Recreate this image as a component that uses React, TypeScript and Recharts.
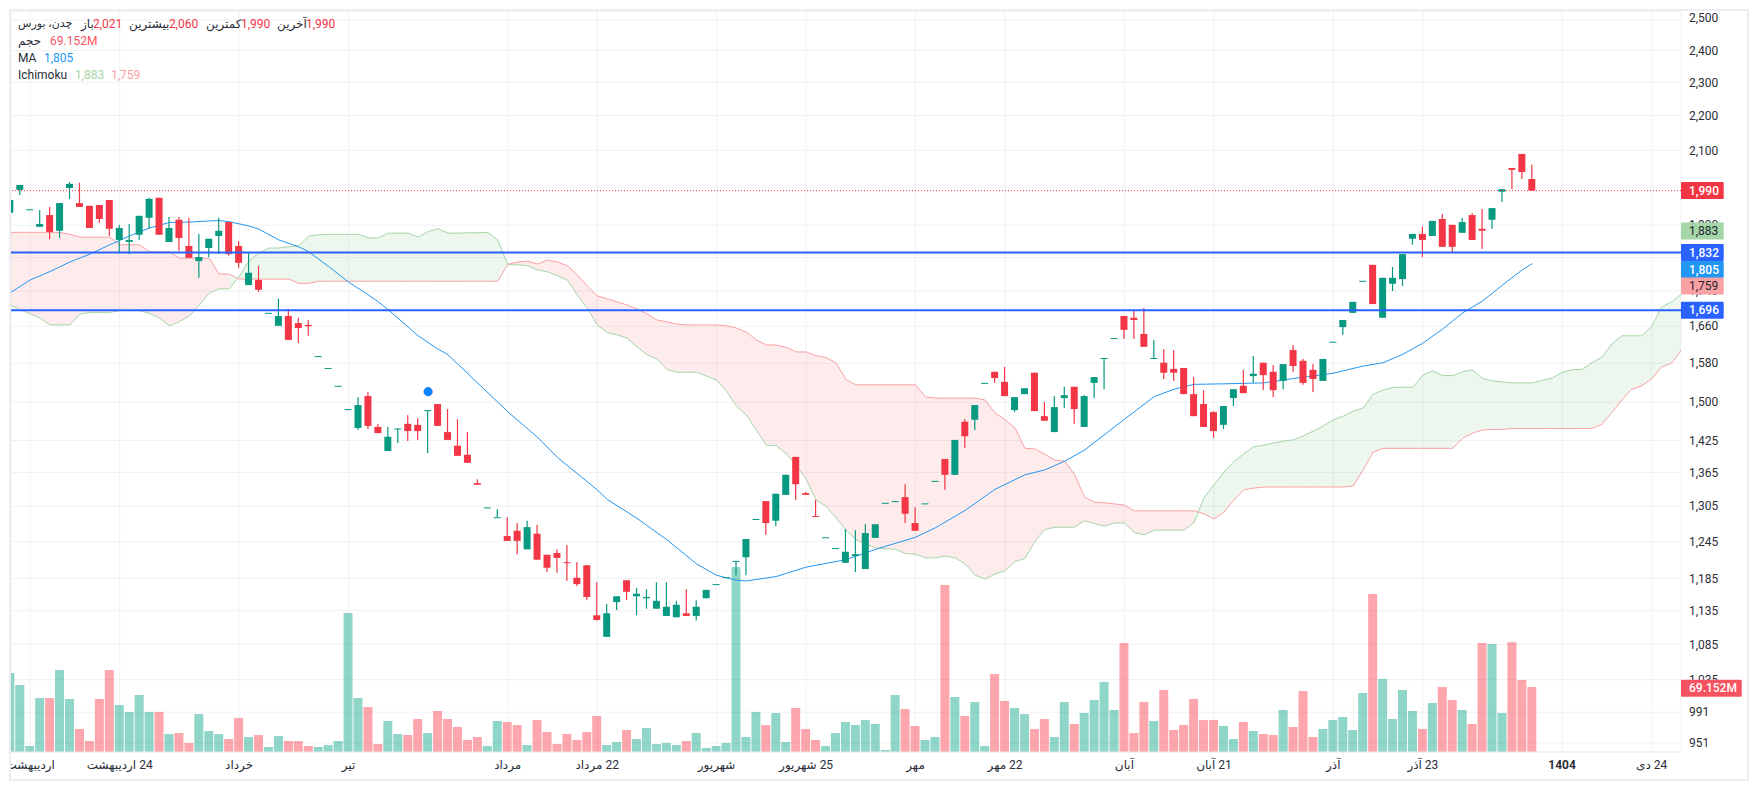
import React from "react";
import { ComposedChart, Bar, Line, Area, XAxis, YAxis, CartesianGrid, ReferenceLine, ReferenceDot } from "recharts";

const opens = [1932,1992,1941,1896,1926,1886,1997,1957,1950,1952,
1965,1863,1858,1876,1919,1971,1858,1914,1848,1811,
1843,1873,1908,1848,1754,1766,1690,1661,1683,1667,
1663,1595,1570,1533,1486,1449,1512,1451,1405,1448,
1457,1455,1484,1496,1441,1415,1398,1346,1303,1286,
1254,1263,1232,1258,1223,1226,1211,1186,1206,1128,
1096,1148,1182,1157,1154,1138,1127,1125,1131,1127,
1154,1176,1187,1213,1219,1283,1314,1280,1325,1394,
1328,1288,1252,1234,1210,1221,1200,1251,1311,1314,
1321,1276,1310,1350,1390,1361,1461,1465,1539,1562,
1541,1484,1516,1560,1472,1441,1508,1531,1451,1539,
1591,1634,1683,1679,1643,1591,1581,1568,1570,1516,
1496,1480,1455,1508,1533,1553,1581,1562,1543,1608,
1585,1566,1543,1626,1658,1690,1764,1802,1679,1757,
1768,1866,1878,1873,1916,1901,1881,1926,1891,1914,
1987,2051,2090,2021];
const closes = [1965,2005,1941,1903,1883,1957,2008,1947,1893,1916,
1891,1893,1863,1924,1968,1876,1893,1868,1819,1821,
1866,1886,1828,1807,1783,1743,1690,1683,1630,1656,
1660,1595,1570,1533,1486,1494,1453,1439,1432,1448,
1443,1443,1484,1453,1426,1396,1383,1343,1303,1286,
1246,1246,1269,1215,1202,1218,1210,1176,1156,1121,
1131,1157,1164,1161,1156,1150,1141,1144,1127,1141,
1167,1176,1187,1213,1249,1283,1276,1327,1361,1344,
1325,1287,1252,1234,1228,1224,1259,1274,1311,1314,
1292,1263,1310,1350,1361,1426,1433,1494,1539,1549,
1512,1510,1528,1482,1463,1490,1514,1486,1512,1551,
1591,1634,1652,1674,1615,1591,1560,1560,1516,1472,
1451,1443,1492,1526,1518,1558,1555,1524,1578,1574,
1539,1547,1589,1626,1674,1715,1764,1710,1771,1771,
1828,1878,1863,1911,1846,1846,1908,1863,1886,1944,
1994,2046,2040,1990];
const highs = [1965,2005,1941,1939,1947,1957,2013,2011,1950,1952,
1965,1901,1903,1924,1971,1971,1921,1921,1919,1878,
1866,1919,1908,1860,1833,1800,1690,1722,1699,1679,
1674,1595,1570,1533,1486,1510,1520,1457,1451,1448,
1474,1468,1484,1496,1486,1466,1441,1353,1303,1300,
1286,1276,1280,1273,1223,1232,1239,1211,1206,1179,
1145,1157,1182,1170,1168,1179,1179,1150,1168,1151,
1167,1176,1187,1213,1249,1283,1314,1327,1361,1394,
1330,1316,1252,1234,1266,1264,1274,1274,1311,1314,
1344,1303,1310,1350,1390,1426,1466,1494,1539,1562,
1572,1510,1528,1560,1500,1512,1531,1531,1514,1551,
1591,1634,1683,1694,1701,1630,1610,1608,1570,1551,
1524,1482,1492,1526,1566,1595,1581,1576,1578,1619,
1589,1578,1589,1626,1674,1715,1764,1802,1771,1797,
1828,1878,1896,1911,1929,1901,1919,1931,1942,1944,
1994,2051,2090,2060];
const lows = [1909,1978,1941,1896,1865,1868,1968,1947,1893,1906,
1873,1831,1828,1863,1891,1876,1858,1836,1819,1771,
1821,1828,1824,1795,1754,1738,1690,1661,1630,1623,
1639,1595,1570,1533,1486,1445,1447,1439,1405,1420,
1424,1426,1401,1453,1426,1396,1383,1343,1303,1286,
1246,1224,1232,1215,1195,1194,1181,1173,1151,1120,
1096,1136,1151,1128,1138,1138,1127,1125,1127,1120,
1154,1176,1187,1190,1190,1283,1256,1271,1325,1316,
1325,1287,1252,1234,1210,1195,1200,1251,1311,1314,
1276,1263,1310,1350,1334,1361,1411,1445,1539,1539,
1512,1480,1516,1482,1463,1441,1488,1457,1451,1508,
1526,1634,1632,1632,1615,1591,1547,1543,1516,1472,
1451,1430,1447,1492,1518,1539,1524,1510,1526,1562,
1535,1520,1543,1626,1641,1690,1764,1710,1679,1740,
1752,1851,1821,1873,1846,1833,1881,1863,1841,1891,
1960,1994,2021,1990];
const volumes = [84,71.3,6.4,57.4,57.4,87.2,56.4,24.5,11.7,56.4,
87.2,50,42.6,60.6,42.6,42.6,19.1,20.2,9.6,40.4,
22.3,19.1,13.8,36.2,16,18.1,5.3,17,11.7,11.7,
6.4,5.3,7.4,11.7,147.9,57.4,47.9,8.5,33,19.1,
18.1,35.1,20.2,43.6,35.1,26.6,12.8,16,6.4,33,
31.9,28.7,7.4,34,21.3,8.5,19.1,12.8,21.3,38.3,
7.4,10.6,23.4,13.8,25.5,8.5,9.6,7.4,11.7,20.2,
4.3,6.4,9.6,196.8,16,42.6,28.7,41.5,10.6,46.8,
24.5,12.8,6.4,20.2,31.9,28.7,34,29.8,2.1,60.6,
45.7,27.7,12.8,16,177.7,58.5,38.3,53.2,6.4,83,
54.3,46.8,40.4,24.5,35.1,16,53.2,29.8,41.5,55.3,
74.5,44.7,116,20.2,53.2,33,66,23.4,28.7,56.4,
34,34,27.7,13.8,31.9,22.3,19.1,18.1,44.7,26.6,
64.9,16,24.5,34,37.2,23.4,62.8,168.1,77.7,35.1,
66,43.6,24.5,52.1,69.2,55.3,44.7,29.8,116,114.9,
41.5,117,76.6,69.152];
const spanA = [1708,1697,1688,1678,1663,1663,1663,1687,1691,1691,
1691,1695,1695,1695,1689,1678,1661,1670,1683,1708,
1735,1745,1745,1774,1812,1831,1843,1843,1846,1848,
1873,1876,1877,1877,1877,1877,1868,1868,1880,1880,
1880,1870,1884,1891,1880,1880,1881,1881,1882,1863,
1803,1802,1800,1790,1785,1776,1766,1731,1701,1663,
1646,1641,1634,1615,1598,1589,1567,1561,1561,1561,
1553,1545,1522,1492,1474,1445,1416,1415,1400,1379,
1353,1316,1305,1285,1264,1248,1241,1234,1233,1232,
1225,1224,1218,1218,1221,1218,1208,1190,1184,1192,
1197,1212,1217,1245,1265,1269,1269,1269,1280,1275,
1271,1276,1276,1260,1256,1264,1264,1264,1264,1277,
1320,1343,1366,1385,1400,1413,1416,1420,1424,1426,
1434,1443,1453,1465,1472,1482,1488,1516,1524,1530,
1530,1530,1555,1564,1554,1554,1562,1566,1548,1543,
1541,1539,1539,1539,1544,1549,1561,1566,1567,1581,
1593,1621,1639,1639,1639,1659,1703,1715,1733];
const spanB = [1882,1882,1882,1882,1882,1882,1877,1870,1870,1870,
1870,1851,1851,1851,1834,1834,1834,1818,1818,1818,
1818,1780,1780,1768,1768,1768,1768,1768,1768,1758,
1758,1763,1763,1763,1763,1763,1763,1763,1763,1763,
1763,1763,1763,1763,1763,1763,1763,1763,1763,1763,
1803,1809,1811,1804,1814,1809,1800,1778,1752,1729,
1722,1715,1708,1699,1688,1674,1670,1665,1663,1663,
1663,1663,1661,1656,1647,1630,1619,1619,1614,1604,
1604,1596,1592,1581,1546,1535,1535,1535,1535,1535,
1535,1535,1510,1508,1508,1508,1508,1508,1504,1478,
1465,1449,1410,1409,1399,1388,1386,1361,1321,1312,
1311,1309,1307,1297,1297,1297,1297,1297,1297,1297,
1292,1283,1295,1316,1334,1337,1339,1339,1339,1339,
1339,1339,1339,1339,1339,1341,1370,1403,1410,1410,
1410,1410,1410,1410,1410,1410,1429,1439,1445,1446,
1446,1448,1448,1448,1448,1448,1448,1448,1448,1448,
1456,1479,1504,1526,1533,1547,1572,1580,1608];
const maIndex = [0,2,4,6,8,10,12,14,16,18,20,21,22,24,25,27,29,30,32,34,36,37,38,41,43,44,50,53,55,59,60,62,63,66,69,71,73,74,77,80,84,87,91,93,96,99,102,104,106,108,112,115,117,119,122,126,129,133,136,138,140,142,144,146,148,150,152,153];
const maValues = [1736,1766,1786,1809,1828,1851,1873,1893,1907,1908,1911,1912,1909,1898,1890,1863,1846,1834,1798,1761,1731,1715,1697,1639,1610,1598,1481,1431,1393,1334,1317,1295,1284,1248,1208,1190,1182,1181,1188,1203,1215,1232,1252,1268,1298,1335,1361,1370,1386,1407,1466,1511,1526,1536,1537,1539,1548,1559,1574,1581,1599,1623,1654,1690,1717,1754,1790,1805];

const priceTicks = [2500,2400,2300,2200,2100,2000,1900,1820,1740,1660,1580,1500,1425,1365,1305,1245,1185,1135,1085,1035,991,951];
const coveredTicks = [2000, 1820];
const peekTicks: Record<number, [number, number]> = { 1900: [-10, -2.5], 1740: [3.5, 10], 1035: [-10, 0] };
const timeTickIndex = [2,11,23,34,50,59,71,80,91,100,112,121,133,142,156,165];
const timeTickLabels = ["اردیبهشت","24 اردیبهشت","خرداد","تیر","مرداد","22 مرداد","شهریور","25 شهریور","مهر","22 مهر","آبان","21 آبان","آذر","23 آذر","1404","24 دی"];
const levels = [1832, 1696];
const lastPrice = 1990;
const markerIndex = 42;
const markerPrice = 1521;

const FONT = "Roboto, 'DejaVu Sans', sans-serif";
const UP = "#089981";
const DOWN = "#F23645";
const SPAN_A = "#A5D6A7";
const SPAN_B = "#FAA1A4";
const MA = "#2196F3";
const BLUE = "#2962FF";
const GRID = "#f0f1f4";
const TEXT = "#2a2e39";

const tags = [
  { value: 1990, text: "1,990", bg: DOWN, fg: "#fff", w: 42.7, shift: 0 },
  { value: 1883, text: "1,883", bg: SPAN_A, fg: "#1f2430", w: 42.7, shift: -1 },
  { value: 1832, text: "1,832", bg: BLUE, fg: "#fff", w: 42.7, shift: 0 },
  { value: 1805, text: "1,805", bg: MA, fg: "#fff", w: 42.7, shift: 6 },
  { value: 1759, text: "1,759", bg: SPAN_B, fg: "#1f2430", w: 42.7, shift: 3 },
  { value: 1696, text: "1,696", bg: BLUE, fg: "#fff", w: 42.7, shift: 0 },
];
const lastVolumeTag = { value: 1035, text: "69.152M", bg: "#F7525F", fg: "#fff", w: 60.7, shift: 8.5 };

const rows = Array.from({ length: 169 }, (_, i) => {
  const a = spanA[i], b = spanB[i];
  const na = spanA[i + 1] ?? a, nb = spanB[i + 1] ?? b;
  const m = maIndex.indexOf(i);
  return {
    i, a, b,
    o: opens[i] ?? null, h: highs[i] ?? null, l: lows[i] ?? null, c: closes[i] ?? null,
    vol: volumes[i] ?? null,
    ma: m >= 0 ? maValues[m] : null,
    pink: b >= a || nb > na ? [a, b] : null,
    green: a >= b || na > nb ? [b, a] : null,
  };
});

const XDOMAIN: [number, number] = [0.07, 167.95];

const Wick = (p: any) => {
  const r = p.payload;
  if (!r || r.o == null || !(p.height > 0)) return null;
  return <rect x={p.x + p.width / 2 - 0.6} y={p.y} width={1.2} height={p.height} fill={r.c >= r.o ? UP : DOWN} />;
};
const Body = (p: any) => {
  const r = p.payload;
  if (!r || r.o == null) return null;
  return <rect x={p.x} y={p.y} width={p.width} height={Math.max(p.height, 1)} fill={r.c >= r.o ? UP : DOWN} />;
};
const Vol = (p: any) => {
  const r = p.payload;
  if (!r || r.vol == null) return null;
  return <rect x={p.x} y={p.y} width={p.width} height={p.height} fill={r.c >= r.o ? "rgba(0,160,130,0.44)" : "rgba(252,57,73,0.45)"} />;
};

const PriceTick = (p: any) => {
  const v = p.payload.value;
  if (coveredTicks.includes(v)) return null;
  const peek = peekTicks[v];
  return (
    <g>
      {peek && <clipPath id={`peek-${v}`}><rect x={1685} y={p.y + peek[0]} width={50} height={peek[1] - peek[0]} /></clipPath>}
      <text x={1689} y={p.y + (v === 2500 ? -2 : 0)} dy="0.35em" fontSize={12} fontFamily={FONT} fill={TEXT} clipPath={peek ? `url(#peek-${v})` : undefined}>
        {v.toLocaleString("en-US")}
      </text>
    </g>
  );
};
const TimeTick = (p: any) => {
  const label = timeTickLabels[timeTickIndex.indexOf(p.payload.value)];
  const bold = label === "1404";
  return (
    <g>
      <clipPath id="time-clip"><rect x={10} y={752} width={1680} height={28} /></clipPath>
      <text x={p.x} y={769} textAnchor="middle" direction="rtl" clipPath="url(#time-clip)" fontSize={12} fontWeight={bold ? 700 : 400} fontFamily={FONT} fill={TEXT} style={{ direction: "rtl" }}>
        {label}
      </text>
    </g>
  );
};
const tagShape = (t: typeof tags[number]) => (p: any) => (
  <g>
    <rect x={p.cx} y={p.cy + t.shift - 8.5} width={t.w} height={17} fill={t.bg} rx={1} />
    <text x={p.cx + 8} y={p.cy + t.shift} dy="0.35em" fontSize={12} fontFamily={FONT} fontWeight={t.fg === "#fff" ? 500 : 400} fill={t.fg}>{t.text}</text>
  </g>
);

const Txt = ({ x, y, c, size, children }: any) => (
  <span style={{ position: "absolute", left: x, top: y - 8, lineHeight: "16px", fontSize: size ?? 12, color: c, fontFamily: FONT, whiteSpace: "nowrap" }}>{children}</span>
);

const sharedX = {
  type: "number" as const, dataKey: "i", domain: XDOMAIN, allowDataOverflow: true, ticks: timeTickIndex, hide: true,
};

export default function App() {
  const extra = (z: number): any => ({ zIndex: z });
  return (
    <div style={{ position: "absolute", left: 0, top: 0, width: 1757, height: 790, background: "#fff", overflow: "hidden" }}>
      <ComposedChart width={1757} height={790} data={rows} margin={{ top: 11, right: 0, bottom: 0, left: 11 }}>
        <CartesianGrid stroke={GRID} strokeWidth={1} />
        <XAxis xAxisId={0} type="number" dataKey="i" domain={XDOMAIN} allowDataOverflow ticks={timeTickIndex} interval={0} height={38} tick={<TimeTick />} tickLine={false} axisLine={{ stroke: "#eeeef2" }} />
        <XAxis xAxisId="wick" {...sharedX} />
        <XAxis xAxisId="body" {...sharedX} />
        <YAxis yAxisId={0} orientation="right" scale="log" domain={[939.6, 2530]} allowDataOverflow ticks={priceTicks} interval={0} width={76} tick={<PriceTick />} tickLine={false} axisLine={false} />
        <YAxis yAxisId="vol" hide domain={[0, 788.4]} allowDataOverflow />

        <Area xAxisId={0} yAxisId={0} dataKey="pink" stroke="none" fill="#F23645" fillOpacity={0.1} isAnimationActive={false} dot={false} activeDot={false} />
        <Area xAxisId={0} yAxisId={0} dataKey="green" stroke="none" fill="#4CAF50" fillOpacity={0.1} isAnimationActive={false} dot={false} activeDot={false} />
        <Line xAxisId={0} yAxisId={0} dataKey="a" stroke={SPAN_A} strokeWidth={1} dot={false} activeDot={false} isAnimationActive={false} {...extra(150)} />
        <Line xAxisId={0} yAxisId={0} dataKey="b" stroke={SPAN_B} strokeWidth={1} dot={false} activeDot={false} isAnimationActive={false} {...extra(150)} />
        <Bar xAxisId={0} yAxisId="vol" dataKey="vol" barSize={9} shape={<Vol />} isAnimationActive={false} {...extra(160)} />
        <Line xAxisId={0} yAxisId={0} dataKey="ma" stroke={MA} strokeWidth={1} connectNulls dot={false} activeDot={false} isAnimationActive={false} {...extra(170)} />
        <Bar xAxisId="wick" yAxisId={0} dataKey={(r: any) => (r.o == null ? null : [r.l, r.h])} barSize={7} shape={<Wick />} isAnimationActive={false} {...extra(180)} />
        <Bar xAxisId="body" yAxisId={0} dataKey={(r: any) => (r.o == null ? null : [Math.min(r.o, r.c), Math.max(r.o, r.c)])} barSize={7} shape={<Body />} isAnimationActive={false} {...extra(190)} />

        <ReferenceLine yAxisId={0} y={lastPrice} stroke={DOWN} strokeWidth={1} strokeDasharray="1 2" {...extra(450)} />
        {levels.map((v) => <ReferenceLine key={v} yAxisId={0} y={v} stroke={BLUE} strokeWidth={2} {...extra(450)} />)}
        <ReferenceDot yAxisId={0} x={markerIndex} y={markerPrice} r={4.3} fill="#0a84ff" stroke="#2a6fd0" strokeWidth={0.5} {...extra(460)} />
        {tags.map((t) => <ReferenceDot key={t.text} yAxisId={0} x={XDOMAIN[1]} y={t.value} shape={tagShape(t)} {...extra(1500)} />)}
        <ReferenceDot yAxisId={0} x={XDOMAIN[1]} y={lastVolumeTag.value} shape={tagShape(lastVolumeTag)} {...extra(1500)} />
      </ComposedChart>

      <Txt x={18} y={24} c={TEXT} size={11}>چدن، بورس</Txt>
      <Txt x={81} y={24} c={TEXT}>باز</Txt><Txt x={93} y={24} c={DOWN}>2,021</Txt>
      <Txt x={129} y={24} c={TEXT}>بیشترین</Txt><Txt x={169} y={24} c={DOWN}>2,060</Txt>
      <Txt x={206} y={24} c={TEXT}>کمترین</Txt><Txt x={241} y={24} c={DOWN}>1,990</Txt>
      <Txt x={277} y={24} c={TEXT}>آخرین</Txt><Txt x={306} y={24} c={DOWN}>1,990</Txt>
      <Txt x={18} y={41} c={TEXT}>حجم</Txt><Txt x={50} y={41} c="#F7525F">69.152M</Txt>
      <Txt x={18} y={58} c={TEXT}>MA</Txt><Txt x={44} y={58} c={MA}>1,805</Txt>
      <Txt x={18} y={75} c={TEXT}>Ichimoku</Txt><Txt x={75} y={75} c={SPAN_A}>1,883</Txt><Txt x={111} y={75} c={SPAN_B}>1,759</Txt>

      <div style={{ position: "absolute", left: 9, top: 9, width: 1736, height: 768, border: "2px solid #eeeef2", pointerEvents: "none" }} />
    </div>
  );
}
